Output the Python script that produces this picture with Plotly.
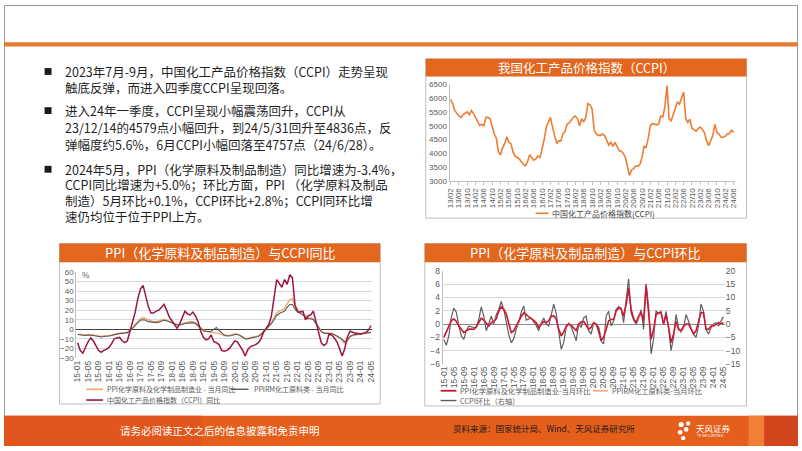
import plotly.graph_objects as go

W, H = 802, 451
def px(x):
    return x / W
def py(y):
    return 1 - y / H

# ---------------- data ----------------
# CCPI monthly, 2013-02 .. 2024-06
ccpi_2013 = [5950, 5800, 5550, 5450, 5350, 5300, 5400, 5450, 5500, 5400, 5550]
ccpi_2014 = [5450, 5300, 5150, 5000, 5050, 5000, 5300, 5300, 5250, 5000, 4700, 4550]
ccpi_2015 = [4050, 3950, 4200, 4350, 4600, 4400, 4350, 4050, 3900, 3850, 3800, 3700]
ccpi_2016 = [3600, 3550, 3700, 3950, 3850, 3750, 3800, 3900, 3850, 4150, 4500, 4950]
ccpi_2017 = [5100, 5300, 4950, 4600, 4350, 4450, 4450, 4700, 4800, 5050, 5100, 5200]
ccpi_2018 = [5300, 5350, 5250, 5000, 5250, 5150, 5300, 5800, 5750, 5600, 4850, 4700]
ccpi_2019 = [4650, 4650, 4700, 4650, 4450, 4300, 4400, 4250, 4400, 4250, 4100, 4080]
ccpi_2020 = [4000, 3850, 3550, 3200, 3400, 3450, 3550, 3530, 3600, 3850, 4250, 4220]
ccpi_2021 = [4550, 5000, 5080, 5050, 5030, 5060, 5350, 5320, 5700, 6450, 5250, 5180]
ccpi_2022 = [5400, 5600, 5850, 5780, 6000, 6220, 5250, 5120, 5240, 4900, 4850, 4800]
ccpi_2023 = [4900, 4950, 4850, 4750, 4450, 4280, 4450, 4650, 5050, 4750, 4700, 4580]
ccpi_2024 = [4580, 4620, 4700, 4720, 4836, 4757]
ccpi_values = (ccpi_2013 + ccpi_2014 + ccpi_2015 + ccpi_2016 + ccpi_2017 + ccpi_2018 +
               ccpi_2019 + ccpi_2020 + ccpi_2021 + ccpi_2022 + ccpi_2023 + ccpi_2024)
ccpi_months = []
for yy in range(13, 25):
    for mm in range(1, 13):
        if (yy == 13 and mm < 2) or (yy == 24 and mm > 6):
            continue
        ccpi_months.append(f"{yy:02d}/{mm:02d}")
ccpi_ticks = ccpi_months[::4]

# Monthly categories 2015-01 .. 2024-05
ppi_months = []
for yy in range(15, 25):
    for mm in range(1, 13):
        if yy == 24 and mm > 5:
            continue
        ppi_months.append(f"{yy:02d}-{mm:02d}")
ppi_ticks = ppi_months[::4]

# YoY (%)
ppi_chem_yoy = [-5, -5.5, -6, -6, -5.5, -5.5, -6, -6.5, -7, -7.5, -7, -7,
                -6.5, -6, -5, -4.5, -4, -4, -3.5, -3, -1, 1.5, 5, 8.5,
                11, 12, 11, 9.5, 8.5, 8, 8, 8.5, 9.5, 10.5, 9.5, 8.5,
                7.5, 6, 5, 5, 6, 7, 7.5, 8, 8, 7, 4.5, 1.5,
                -1, -2, -2.5, -3, -3, -3.5, -4.5, -5.5, -6.5, -6.5, -6.5, -5.5,
                -4.5, -5, -6, -8, -9.5, -9.5, -8.5, -8, -7.5, -7, -5, -2,
                1, 3, 7, 12, 17, 19, 20, 22, 27, 31, 32, 25,
                21, 19, 17, 14, 12, 12, 11, 7, 2, -2, -3.5, -4,
                -4, -4, -5.5, -7, -9, -12, -15, -12, -8, -6.5, -6, -5.5,
                -5.5, -5, -4.5, -4, -3.4]
ppirm_yoy = [-5.5, -6, -6.5, -6.5, -6, -6, -6.5, -7, -7.5, -8, -7.5, -7.5,
             -7, -6.5, -5.5, -5, -4.5, -4.5, -4, -3.5, -1.5, 1, 4, 7,
             9.5, 10, 9.5, 8, 7.5, 7, 7, 7.5, 8.5, 9.5, 9, 8,
             7, 5.5, 4.5, 4.5, 5.5, 6, 6.5, 7, 7, 6, 3.5, 0.5,
             -1.5, -2, -2.5, -2, 0, 2, -1, -4, -6, -7, -7, -6.5,
             -5.5, -5.5, -6.5, -8.5, -10, -10, -9, -8.5, -8, -7.5, -5.5, -2.5,
             0.5, 2.5, 6, 10, 14.5, 16.5, 17.5, 19, 23, 26, 26, 21,
             18.5, 17, 15, 12.5, 11, 11, 10, 6, 1.5, -2.5, -4, -4.5,
             -4.5, -4.5, -5.5, -7, -8.5, -10.5, -13, -11, -7.5, -6, -5.5, -5,
             -5, -4.5, -4, -3.5, -3]
ccpi_yoy = [-14, -22, -25, -18, -13, -9, -12, -17, -22, -24, -22, -21,
            -19, -15, -10, -9, -8.5, -12, -14, -12, -2, 6, 18, 32,
            42, 46, 36, 24, 17, 17, 19, 20, 23, 26, 20, 13,
            9, 5, 1, 6, 13, 19, 16, 15, 18, 14, 8, -2,
            -8, -11, -10, -6, -13, -14, -16, -22, -23, -22, -20, -16,
            -12, -13, -17, -22, -28, -21, -18, -17, -16, -14, -10, -3,
            1, 5, 14, 36, 52, 48, 44, 52, 47, 57, 54, 25,
            18, 18, 19, 10, 14, 15, 19, 8, -3, -14, -17, -15,
            -5, -6, -9, -13, -20, -28, -20, -8, -2, -3, -4, -4,
            -5, -4, -3.5, -1, 4]

# MoM (%)
ppi_chem_mom = [-2, -1.2, -0.2, 0.5, 0.8, 0.4, -0.3, -0.8, -1.3, -1, -0.8, -0.8,
                -0.8, -0.4, 0.3, 0.9, 0.6, 0.2, -0.3, 0.2, 0.4, 0.8, 2, 2.6,
                2.2, 1.5, 0, -1.3, -1, -0.2, 0.4, 1.2, 1.7, 1.4, 1.2, 0.9,
                0.6, 0.2, -0.5, 0, 0.4, 0.2, 0.5, 1.2, 1.2, 0.8, -0.8, -1.8,
                -1.2, -0.3, 0, -0.2, -0.6, -1, 0, 0.3, 0.4, -0.2, -0.8, -0.5,
                0.2, 0, -0.6, -2.5, -2, -0.8, 0.5, 0.7, 0.7, 2, 2.4, 2.3,
                1.2, 3, 5.4, 2.2, 0.8, 0.2, 1.2, 1.7, 0.5, 5.8, 1.7, -2.3,
                -0.8, 1.5, 1.7, 1.7, 0, 1.4, -0.5, -2.8, -1.5, 0.4, -0.8, -1,
                -0.3, 0, 0, -0.8, -1.5, -1, 0.2, 1.7, 1.7, -0.8, -0.8, -0.3,
                -0.3, 0, 0.2, 0.1, 0.1]
ppirm_mom = [-1.8, -1.4, -0.3, 0.4, 0.7, 0.5, -0.2, -0.7, -1.2, -1.1, -0.7, -0.7,
             -0.9, -0.5, 0.2, 0.8, 0.7, 0.1, -0.2, 0.3, 0.3, 0.9, 1.8, 2.5,
             2.4, 1.7, 0.2, -1.1, -1.2, -0.4, 0.3, 1, 1.5, 1.6, 1.1, 0.8,
             0.7, 0.3, -0.4, 0.1, 0.3, 0.3, 0.4, 1, 1.3, 0.9, -0.6, -1.6,
             -1.4, -0.4, 0.1, -0.1, -0.5, -0.9, -0.1, 0.2, 0.5, -0.1, -0.7, -0.6,
             0.1, -0.1, -0.5, -2.2, -2.1, -0.9, 0.4, 0.8, 0.6, 1.8, 2.3, 2.4,
             1.4, 2.8, 5, 2.4, 0.9, 0.3, 1, 1.5, 0.7, 5.5, 1.9, -2,
             -1, 1.3, 1.5, 1.8, 0.2, 1.2, -0.3, -2.5, -1.7, 0.2, -0.6, -1.2,
             -0.5, -0.2, 0.1, -0.6, -1.3, -1.2, 0.4, 1.9, 1.6, -0.6, -0.9, -0.4,
             -0.2, -0.1, 0.3, 0.2, 0.2]
ccpi_mom = [-5.8, -8, -4.5, 2.5, 6, 4.5, -0.5, -4.5, -5.8, -2.5, -0.8, -1.2,
            -1.3, -1.2, 1.8, 6.5, 3, -2.5, 0, 3, 0, 3.5, 5.5, 8.5,
            5.5, 1, -4, -7, -5.5, -2, 0.5, 4.5, 6.8, 1.5, 1.8, 2.3,
            0.8, -0.5, -2.5, 0.5, 2.3, 0, -0.7, 3, 7.5, 4, -2, -9.5,
            -7, -1.5, 0.5, -1, -3.5, -6.3, 0, -1.3, 2.3, 3, -2.5, -3.8,
            0.5, 0, -3.2, -6.5, -7.5, 3, 4.8, -0.7, 1.1, 5.5, 6.6, 6,
            0.5, 10, 17, 4.2, 1.5, 0, 2, 5.4, -2, 15.2, 6.6, -11.2,
            -5.7, 4.8, 4.2, 4.8, 0, 4.8, -1.3, -10, -5, 3.6, -1.3, -3.2,
            -1.3, 3.6, 1.1, -1.3, -3.8, -5, -0.7, 7.6, 4.8, -2, -3.8, -1.5,
            0, 0.5, -0.7, 1.1, 2.8]

bullet_lines = [
    "2023年7月-9月，中国化工产品价格指数（CCPI）走势呈现",
    "触底反弹，而进入四季度CCPI呈现回落。",
    "进入24年一季度，CCPI呈现小幅震荡回升，CCPI从",
    "23/12/14的4579点小幅回升，到24/5/31回升至4836点，反",
    "弹幅度约5.6%，6月CCPI小幅回落至4757点（24/6/28）。",
    "2024年5月，PPI（化学原料及制品制造）同比增速为-3.4%，",
    "CCPI同比增速为+5.0%；环比方面，PPI （化学原料及制品",
    "制造）5月环比+0.1%，CCPI环比+2.8%；CCPI同环比增",
    "速仍均位于位于PPI上方。",
]

# ---------------- styles ----------------
CJK = "Noto Sans CJK SC"
TICKF = dict(family="Liberation Sans, " + CJK, size=8, color="#595959")
ORANGE_BAR = "#E2661E"

fig = go.Figure()

# CCPI chart
fig.add_trace(go.Scatter(x=ccpi_months, y=ccpi_values, mode="lines",
                         line=dict(color="#ED7D31", width=1.6),
                         xaxis="x", yaxis="y", name="中国化工产品价格指数(CCPI)"))
# YoY chart
fig.add_trace(go.Scatter(x=ppi_months, y=ppi_chem_yoy, mode="lines",
                         line=dict(color="#F4A66E", width=1.4),
                         xaxis="x2", yaxis="y2", name="PPI化学原料及化学制品制造业-当月同比"))
fig.add_trace(go.Scatter(x=ppi_months, y=ppirm_yoy, mode="lines",
                         line=dict(color="#5A5A5A", width=1.1),
                         xaxis="x2", yaxis="y2", name="PPIRM化工原料类-当月同比"))
fig.add_trace(go.Scatter(x=ppi_months, y=ccpi_yoy, mode="lines",
                         line=dict(color="#9B1445", width=1.5),
                         xaxis="x2", yaxis="y2", name="中国化工产品价格指数（CCPI）同比"))
# MoM chart (CCPI on base right axis, PPI on overlay left axis)
fig.add_trace(go.Scatter(x=ppi_months, y=ccpi_mom, mode="lines",
                         line=dict(color="#5E5E5E", width=1.2),
                         xaxis="x3", yaxis="y3", name="CCPI环比（右轴）"))
fig.add_trace(go.Scatter(x=ppi_months, y=ppirm_mom, mode="lines",
                         line=dict(color="#F7A46E", width=1.2),
                         xaxis="x3", yaxis="y4", name="PPIRM化工原料类-当月环比"))
fig.add_trace(go.Scatter(x=ppi_months, y=ppi_chem_mom, mode="lines",
                         line=dict(color="#C8143C", width=1.5),
                         xaxis="x3", yaxis="y4", name="PPI化学原料及化学制品制造业-当月环比"))

shapes = []
annotations = []

def rect(x0, y0, x1, y1, fill=None, line=None, lw=1, layer="above"):
    shapes.append(dict(type="rect", xref="paper", yref="paper",
                       x0=px(x0), x1=px(x1), y0=py(y1), y1=py(y0),
                       fillcolor=fill if fill else "rgba(0,0,0,0)",
                       line=dict(color=line if line else "rgba(0,0,0,0)", width=lw if line else 0),
                       layer=layer))

def hline(x0, x1, y, color, width=1.5):
    shapes.append(dict(type="line", xref="paper", yref="paper",
                       x0=px(x0), x1=px(x1), y0=py(y), y1=py(y),
                       line=dict(color=color, width=width)))

def text(x, y, s, size, color="#1A1A1A", xanchor="left", family=CJK, yanchor="middle"):
    annotations.append(dict(x=px(x), y=py(y), xref="paper", yref="paper",
                            text=s, showarrow=False, xanchor=xanchor, yanchor=yanchor,
                            align="left", font=dict(family=family, size=size, color=color)))

# page frame and top rule
rect(0.5, 0.5, 801.5, 450.5, line="#9A9A9A", lw=1, layer="below")
rect(0, 38, 802, 42.5, fill="#E87A2E")

# bullets + text
for by in (68, 108, 168):
    rect(41, by - 3.5, 48, by + 3.5, fill="#1A1A1A")
line_y = [68, 84, 108, 125.5, 143, 168, 184, 200, 216]
for ly, s in zip(line_y, bullet_lines):
    text(60, ly, s, 12.5, "#1F1F1F")

# chart boxes + title bars
rect(426, 55, 750, 218, line="#BFBFBF", lw=1, layer="below")
rect(426, 55, 750, 73, fill=ORANGE_BAR)
text(588, 64, "我国化工产品价格指数（CCPI）", 12.5, "white", "center")

rect(56, 244, 380, 408, line="#BFBFBF", lw=1, layer="below")
rect(56, 244, 380, 263, fill=ORANGE_BAR)
text(218, 253.5, "PPI（化学原料及制品制造）与CCPI同比", 13, "white", "center")

rect(425, 244, 750, 410, line="#BFBFBF", lw=1, layer="below")
rect(425, 244, 750, 263, fill=ORANGE_BAR)
text(587, 253.5, "PPI（化学原料及制品制造）与CCPI环比", 13, "white", "center")

# legends (drawn)
hline(537, 550, 213, "#ED7D31", 1.6)
text(552, 213, "中国化工产品价格指数(CCPI)", 8, "#404040")

hline(83, 100, 393, "#F4A66E", 1.6)
text(102, 393, "PPI化学原料及化学制品制造业 - 当月同比", 7, "#595959")
hline(229, 247, 393, "#5A5A5A", 1.4)
text(250, 393, "PPIRM化工原料类 - 当月同比", 7, "#595959")
hline(83, 100, 404, "#9B1445", 1.6)
text(102, 404, "中国化工产品价格指数（CCPI）同比", 7, "#595959")

hline(441, 457, 394.5, "#C8143C", 1.8)
text(459, 394.5, "PPI化学原料及化学制品制造业-当月环比", 7.3, "#595959")
hline(595, 610, 394.5, "#F7A46E", 1.6)
text(612, 394.5, "PPIRM化工原料类-当月环比", 7.3, "#595959")
hline(441, 457, 404.5, "#5E5E5E", 1.4)
text(459, 404.5, "CCPI环比（右轴）", 7.3, "#595959")

text(77, 276, "%", 8, "#595959")

# footer
rect(0, 420, 802, 451, fill="#E65E1C")
rect(0, 420, 200, 451, fill="#E2561E")
rect(752, 420, 768, 451, fill="#EF8036")
rect(768, 420, 802, 451, fill="#D2441C")
text(218, 435.5, "请务必阅读正文之后的信息披露和免责申明", 10.5, "white", "center")
text(452, 433, "资料来源：国家统计局、Wind、天风证券研究所", 8.5, "#1A1A1A")
for cx, cy, r in [(684, 429, 2.6), (691, 428, 2.2), (689, 434, 2.4), (683, 437, 2.4), (686, 443, 2.2)]:
    shapes.append(dict(type="circle", xref="paper", yref="paper",
                       x0=px(cx - r), x1=px(cx + r), y0=py(cy + r), y1=py(cy - r),
                       fillcolor="white", line=dict(width=0)))
text(697, 433, "天风证券", 8.5, "white")
text(698, 441, "TF SECURITIES", 3.5, "white", family="Liberation Sans")

fig.update_layout(
    width=W, height=H, margin=dict(l=0, r=0, t=0, b=0),
    paper_bgcolor="white", plot_bgcolor="rgba(0,0,0,0)",
    showlegend=False, shapes=shapes, annotations=annotations,
    xaxis=dict(domain=[px(450), px(738)], anchor="y", type="category",
               categoryorder="array", categoryarray=ccpi_months,
               range=[-0.5, len(ccpi_months) - 0.5],
               tickmode="array", tickvals=ccpi_ticks, ticktext=ccpi_ticks,
               tickangle=-90, tickfont=TICKF, showline=True, linecolor="#BFBFBF",
               ticks="outside", ticklen=3, tickcolor="#BFBFBF", showgrid=False),
    yaxis=dict(domain=[py(180), py(81)], anchor="x", range=[3000, 6500],
               tick0=3000, dtick=500, tickfont=TICKF, showline=True,
               linecolor="#BFBFBF", showgrid=False, zeroline=False),
    xaxis2=dict(domain=[px(73), px(372)], anchor="y2", type="category",
                categoryorder="array", categoryarray=ppi_months,
                range=[-0.5, len(ppi_months) - 0.5],
                tickmode="array", tickvals=ppi_ticks, ticktext=ppi_ticks,
                tickangle=-90, tickfont=dict(TICKF, size=8.5), showline=False,
                ticks="", showgrid=False),
    yaxis2=dict(domain=[py(361), py(273)], anchor="x2", range=[-30, 60],
                tick0=-30, dtick=10, tickfont=TICKF, showline=True,
                linecolor="#BFBFBF", showgrid=True, gridcolor="#D9D9D9",
                zeroline=True, zerolinecolor="#404040", zerolinewidth=1.3),
    xaxis3=dict(domain=[px(443), px(728)], anchor="y3", type="category",
                categoryorder="array", categoryarray=ppi_months,
                range=[-0.5, len(ppi_months) - 0.5],
                tickmode="array", tickvals=ppi_ticks, ticktext=ppi_ticks,
                tickangle=-90, tickfont=dict(TICKF, size=8.5), showline=False,
                ticks="", showgrid=False),
    yaxis3=dict(domain=[py(367), py(272)], anchor="x3", side="right",
                range=[-15, 20], tick0=-15, dtick=5, tickfont=dict(TICKF, size=8.5),
                showgrid=True, gridcolor="#D9D9D9", showline=False,
                zeroline=True, zerolinecolor="#8C8C8C", zerolinewidth=1.2),
    yaxis4=dict(overlaying="y3", anchor="x3", side="left", range=[-6, 8],
                tick0=-6, dtick=2, tickfont=dict(TICKF, size=8.5), showgrid=False,
                zeroline=False, showline=True, linecolor="#BFBFBF"),
)

fig.write_html("out.html", config={"displayModeBar": False},
               post_script="document.body.style.margin='0';document.body.style.overflow='hidden';")
